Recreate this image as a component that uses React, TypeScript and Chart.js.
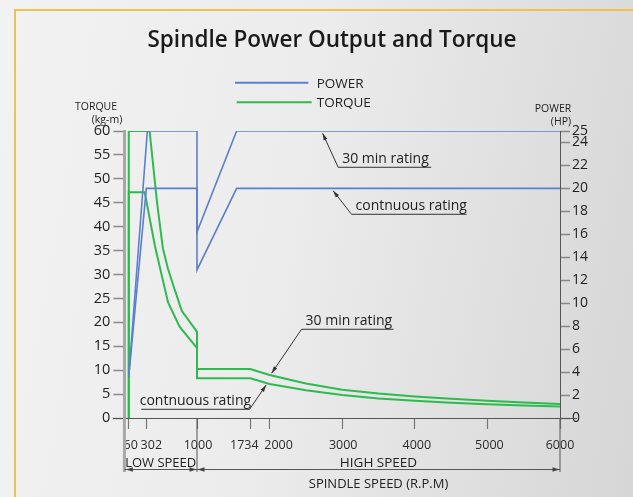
import React, { useEffect, useRef } from "react";
import { Chart, registerables } from "chart.js";

Chart.register(...registerables);

const FONT = "'Open Sans', 'Noto Sans', sans-serif";
const BLUE = "#5b7fcf";
const GREEN = "#2dbb4e";
const INK = "#222222";

// ---- data ----
const xTickValues = [60, 302, 1000, 1734, 2000, 3000, 4000, 5000, 6000];
const torqueTickStep = 5;
const powerTickValues = [0, 2, 4, 6, 8, 10, 12, 14, 16, 18, 20, 22, 24, 25];

const power30Rpm = [60, 316, 1000, 1000, 1546, 6000];
const power30Hp = [3.6, 25, 25, 16.2, 25, 25];

const powerContRpm = [60, 302, 1000, 1000, 1546, 6000];
const powerContHp = [3.6, 20, 20, 12.9, 20, 20];

const torque30Rpm = [60, 60, 347, 450, 530, 600, 700, 790, 1000, 1000, 1734, 2000, 2500, 3000, 3500, 4000, 4500, 5000, 5500, 6000];
const torque30Kgm = [0, 60, 60, 45, 35.5, 31.2, 26.5, 22.4, 18.0, 10.25, 10.25, 9.0, 7.2, 5.9, 5.1, 4.5, 4.0, 3.6, 3.25, 2.95];

const torqueContRpm = [60, 60, 280, 420, 600, 760, 1000, 1000, 1734, 2000, 2500, 3000, 3500, 4000, 4500, 5000, 5500, 6000];
const torqueContKgm = [0, 47.2, 47.2, 36, 24.2, 19.1, 14.6, 8.3, 8.3, 7.1, 5.8, 4.8, 4.1, 3.6, 3.2, 2.9, 2.6, 2.4];

function pts(xs: number[], ys: number[]) {
  return xs.map((x, i) => ({ x, y: ys[i] }));
}

function arrowHead(ctx: CanvasRenderingContext2D, fx: number, fy: number, tx: number, ty: number, len: number, half: number) {
  const a = Math.atan2(ty - fy, tx - fx);
  const bx = tx - len * Math.cos(a);
  const by = ty - len * Math.sin(a);
  ctx.beginPath();
  ctx.moveTo(tx, ty);
  ctx.lineTo(bx + half * Math.sin(a), by - half * Math.cos(a));
  ctx.lineTo(bx - half * Math.sin(a), by + half * Math.cos(a));
  ctx.closePath();
  ctx.fill();
}

const xLabelShift: Record<number, number> = { 60: 2, 302: 5, 1000: 1, 1734: -6, 2000: 9, 3000: 1, 4000: 2, 5000: 2, 6000: 0 };

const notes = [
  { text: "30 min rating", axis: "y1", tx: 2730, ty: 24.8, dx: 15.6, dy: 34, len: 93 },
  { text: "contnuous rating", axis: "y1", tx: 2875, ty: 19.8, dx: 18.4, dy: 23.6, len: 115 },
  { text: "30 min rating", axis: "y", tx: 2027, ty: 9.35, dx: 30, dy: -44, len: 92 },
  { text: "contnuous rating", axis: "y", tx: 1953, ty: 6.9, dx: -16.6, dy: 24.3, len: -108.4 },
];

const decor = {
  id: "decor",
  afterDraw(chart: any) {
    const { ctx, scales } = chart;
    const x = scales.x;
    const y = scales.y;
    const y1 = scales.y1;
    const area = chart.chartArea;
    const px = (v: number) => x.getPixelForValue(v);
    ctx.save();

    // title
    ctx.fillStyle = "#1a1a1a";
    ctx.font = `600 22.5px ${FONT}`;
    ctx.textAlign = "center";
    ctx.textBaseline = "alphabetic";
    ctx.fillText("Spindle Power Output and Torque", 332, 47);

    // legend
    ctx.lineWidth = 2;
    ctx.strokeStyle = BLUE;
    ctx.beginPath(); ctx.moveTo(235, 82.7); ctx.lineTo(308.3, 82.7); ctx.stroke();
    ctx.strokeStyle = GREEN;
    ctx.beginPath(); ctx.moveTo(236.7, 102.3); ctx.lineTo(311.7, 102.3); ctx.stroke();
    ctx.fillStyle = INK;
    ctx.font = `13.5px ${FONT}`;
    ctx.textAlign = "left";
    ctx.fillText("POWER", 316.7, 87.5);
    ctx.fillText("TORQUE", 316.7, 106.5);

    // axis titles
    ctx.font = `10.5px ${FONT}`;
    ctx.textAlign = "center";
    ctx.fillText("TORQUE", 96, 110);
    ctx.fillText("(kg-m)", 107, 123);
    ctx.fillText("POWER", 553, 111.5);
    ctx.fillText("(HP)", 561, 125);

    // x tick labels
    ctx.font = `12.5px ${FONT}`;
    ctx.fillStyle = "#2a2a2a";
    ctx.textAlign = "center";
    xTickValues.forEach((v) => {
      ctx.fillText(String(v), px(v) + (xLabelShift[v] || 0), 448.5);
    });

    // axis extensions
    const base = area.bottom;
    const dimY = base + 51.5;
    ctx.strokeStyle = "#555";
    ctx.lineWidth = 1;
    ctx.beginPath(); ctx.moveTo(113, base + 0.5); ctx.lineTo(577, base + 0.5); ctx.stroke();
    ctx.strokeStyle = "#a8a8a8";
    ctx.lineWidth = 3;
    ctx.beginPath(); ctx.moveTo(area.left, base); ctx.lineTo(area.left, base + 54); ctx.stroke();
    ctx.strokeStyle = "#555";
    ctx.lineWidth = 1;
    ctx.beginPath();
    ctx.moveTo(px(1000), base); ctx.lineTo(px(1000), base + 54);
    ctx.moveTo(area.right, base); ctx.lineTo(area.right, base + 54);
    ctx.moveTo(area.left, dimY); ctx.lineTo(area.right, dimY);
    ctx.stroke();
    ctx.fillStyle = "#444";
    arrowHead(ctx, area.left + 10, dimY, area.left + 1.5, dimY, 7, 2.3);
    arrowHead(ctx, px(1000) - 10, dimY, px(1000) - 0.5, dimY, 7, 2.3);
    arrowHead(ctx, px(1000) + 10, dimY, px(1000) + 0.5, dimY, 7, 2.3);
    arrowHead(ctx, area.right - 10, dimY, area.right - 0.5, dimY, 7, 2.3);

    ctx.fillStyle = INK;
    ctx.font = `13px ${FONT}`;
    ctx.textAlign = "center";
    ctx.fillText("LOW SPEED", (area.left + px(1000)) / 2, dimY - 2.5);
    ctx.font = `13.5px ${FONT}`;
    ctx.fillText("HIGH SPEED", (px(1000) + area.right) / 2, dimY - 3);
    ctx.font = `13px ${FONT}`;
    ctx.fillText("SPINDLE SPEED (R.P.M)", (px(1000) + area.right) / 2, 488);

    // annotations
    ctx.font = `14px ${FONT}`;
    ctx.textAlign = "left";
    notes.forEach((n) => {
      const sc = n.axis === "y1" ? y1 : y;
      const tipX = px(n.tx);
      const tipY = sc.getPixelForValue(n.ty);
      const ex = tipX + n.dx;
      const ey = tipY + n.dy;
      ctx.strokeStyle = "#333";
      ctx.lineWidth = 1;
      ctx.beginPath();
      ctx.moveTo(tipX, tipY);
      ctx.lineTo(ex, ey);
      ctx.lineTo(ex + n.len, ey);
      ctx.stroke();
      ctx.fillStyle = "#333";
      arrowHead(ctx, ex, ey, tipX, tipY, 7, 2);
      ctx.fillStyle = INK;
      const left = n.len > 0 ? ex + 4 : ex + n.len - 1.5;
      ctx.fillText(n.text, left, ey - 4.5);
    });

    ctx.restore();
  },
};

export default function App() {
  const ref = useRef<HTMLCanvasElement | null>(null);

  useEffect(() => {
    if (!ref.current) return;
    Chart.defaults.font.family = FONT;
    const line = (label: string, data: any[], color: string, w: number, axis: string) => ({
      label,
      data,
      yAxisID: axis,
      borderColor: color,
      backgroundColor: color,
      borderWidth: w,
      pointRadius: 0,
      tension: 0,
      fill: false,
    });
    const chart = new Chart(ref.current, {
      type: "line",
      data: {
        datasets: [
          line("POWER 30 min rating", pts(power30Rpm, power30Hp), BLUE, 1.6, "y1"),
          line("POWER contnuous rating", pts(powerContRpm, powerContHp), BLUE, 1.6, "y1"),
          line("TORQUE 30 min rating", pts(torque30Rpm, torque30Kgm), GREEN, 2, "y"),
          line("TORQUE contnuous rating", pts(torqueContRpm, torqueContKgm), GREEN, 2, "y"),
        ],
      },
      options: {
        animation: false,
        responsive: false,
        devicePixelRatio: 1,
        layout: { padding: { left: 74.4, right: 33, top: 131, bottom: 49 } },
        plugins: { legend: { display: false }, tooltip: { enabled: false }, title: { display: false } },
        scales: {
          x: {
            type: "linear",
            min: 0,
            max: 6000,
            afterBuildTicks: (a: any) => {
              a.ticks = xTickValues.map((v) => ({ value: v }));
            },
            afterFit: (s: any) => {
              s.height = 30;
            },
            ticks: { display: false, autoSkip: false },
            grid: { drawOnChartArea: false, tickLength: 11, tickColor: "#777", tickWidth: 1.2 },
            border: { display: true, color: "#555", width: 1 },
          },
          y: {
            position: "left",
            min: 0,
            max: 60,
            ticks: { stepSize: torqueTickStep, font: { family: FONT, size: 14.5 }, color: INK, padding: 3, autoSkip: false },
            afterFit: (s: any) => {
              s.width = 50;
            },
            grid: { drawOnChartArea: false, tickLength: 11, tickColor: "#888", tickWidth: 1.5 },
            border: { display: true, color: "#a8a8a8", width: 3 },
          },
          y1: {
            position: "right",
            min: 0,
            max: 25,
            afterBuildTicks: (a: any) => {
              a.ticks = powerTickValues.map((v) => ({ value: v }));
            },
            ticks: { font: { family: FONT, size: 14 }, color: INK, padding: 2, autoSkip: false },
            afterFit: (s: any) => {
              s.width = 40;
            },
            grid: { drawOnChartArea: false, tickLength: 10, tickColor: "#888", tickWidth: 1.5 },
            border: { display: true, color: "#555", width: 1 },
          },
        },
      },
      plugins: [decor],
    } as any);
    return () => chart.destroy();
  }, []);

  return (
    <div
      style={{
        position: "fixed",
        left: 0,
        top: 0,
        width: 633,
        height: 497,
        overflow: "hidden",
        background: "linear-gradient(100deg, #f2f2f2 0%, #ececec 45%, #e0e0e0 75%, #d6d6d6 100%)",
      }}
    >
      <div
        style={{
          position: "absolute",
          left: 14,
          top: 8.5,
          width: 640,
          height: 500,
          borderTop: "2px solid #efc24c",
          borderLeft: "2px solid #efc24c",
        }}
      />
      <canvas ref={ref} width={633} height={497} style={{ position: "absolute", left: 0, top: 0, display: "block" }} />
    </div>
  );
}
